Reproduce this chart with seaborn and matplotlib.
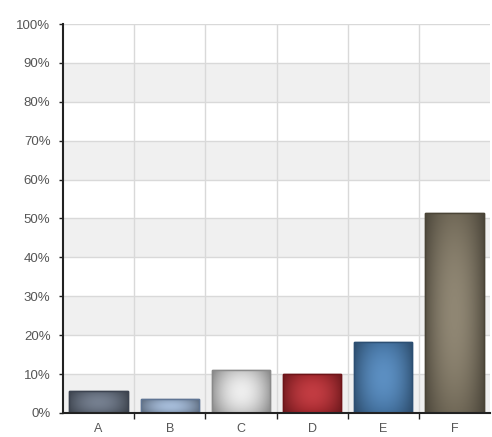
import numpy as np
import pandas as pd
import matplotlib
matplotlib.use('Agg')
import matplotlib.pyplot as plt
import seaborn as sns

# data
categories = ['A', 'B', 'C', 'D', 'E', 'F']
percent = [5.6, 3.5, 11.0, 10.1, 18.3, 51.4]
bar_colors = ['#636d7d', '#93a9c6', '#dcdcdc', '#b02a30', '#4a7db0', '#7e7562']
edge_colors = ['#3c4350', '#5f7594', '#8a8a8a', '#6e1418', '#2c4f73', '#4a4436']

df = pd.DataFrame({'cat': categories, 'pct': percent})

sns.set_theme(style='white')
plt.rcParams['font.family'] = ['Liberation Sans', 'DejaVu Sans']

fig = plt.figure(figsize=(4.92, 4.37), dpi=100)
ax = fig.add_axes([0.128, 0.055, 0.868, 0.89])

sns.barplot(data=df, x='cat', y='pct', hue='cat', palette=bar_colors,
            legend=False, width=0.82, ax=ax, zorder=3)

# only the bars, not other patches
bars = [b for c in ax.containers for b in c]
bars.sort(key=lambda b: b.get_x())

# alternating grey bands behind the bars
for lo in range(0, 100, 20):
    ax.axhspan(lo, lo + 10, color='#f0f0f0', zorder=0, lw=0)

# darker outline + simple shading on each bar
for patch, ec, fc in zip(bars, edge_colors, bar_colors):
    patch.set_edgecolor(ec)
    patch.set_linewidth(1.0)
    x0, y0 = patch.get_x(), patch.get_y()
    w, h = patch.get_width(), patch.get_height()
    base = np.array(matplotlib.colors.to_rgb(fc))
    xx, yy = np.meshgrid(np.linspace(-1, 1, 60), np.linspace(-1, 1, 60))
    shade = 1 - 0.30 * (xx ** 2) - 0.10 * (yy ** 2)
    glow = 0.07 * (1 - xx ** 2) * (1 - yy ** 2)
    img = np.clip(base[None, None, :] * shade[:, :, None] + glow[:, :, None], 0, 1)
    im = ax.imshow(img, extent=[x0, x0 + w, y0, y0 + h], aspect='auto',
                   zorder=3.5, origin='lower')
    im.set_clip_path(patch)
    # redraw outline on top of the shading
    ax.add_patch(matplotlib.patches.Rectangle((x0, y0), w, h, fill=False,
                                              edgecolor=ec, lw=1.0, zorder=4))

ax.set_xlim(-0.5, 5.5)
ax.set_ylim(0, 100)
ax.set_yticks(np.arange(0, 101, 10))
ax.set_yticklabels([f'{v}%' for v in range(0, 101, 10)])
ax.set_xticks(range(len(categories)))
ax.set_xticklabels(categories)
ax.set_xticks(np.arange(0.5, 5.5, 1), minor=True)

# grid lines
for y in range(10, 101, 10):
    ax.axhline(y, color='#d9d9d9', lw=1, zorder=1)
for x in np.arange(0.5, 5.5, 1):
    ax.axvline(x, color='#d9d9d9', lw=1, zorder=1)

ax.set_xlabel('')
ax.set_ylabel('')
sns.despine(ax=ax, top=True, right=True)
for side in ['left', 'bottom']:
    ax.spines[side].set_color('#222222')
    ax.spines[side].set_linewidth(1.5)
    ax.spines[side].set_zorder(5)

ax.tick_params(axis='y', which='major', left=True, length=3, width=1,
               color='#222222', labelsize=9.5, labelcolor='#555555', pad=6)
ax.tick_params(axis='x', which='major', bottom=False, labelsize=9,
               labelcolor='#555555', pad=1)
ax.tick_params(axis='x', which='minor', bottom=True, length=4, width=1,
               color='#222222')

fig.savefig('out.png', dpi=100, facecolor='white')
